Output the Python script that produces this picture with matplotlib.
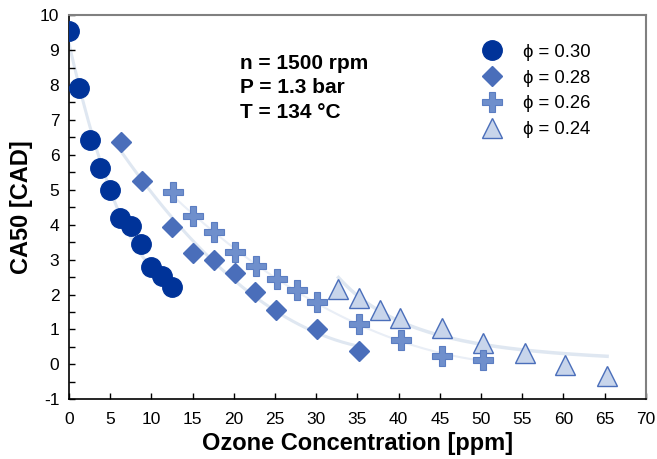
import numpy as np
import matplotlib
matplotlib.use("Agg")
import matplotlib.pyplot as plt
from matplotlib.ticker import MultipleLocator

plt.rcParams['font.family'] = ['Liberation Sans', 'DejaVu Sans']
plt.rcParams['axes.unicode_minus'] = False

# phi = 0.30
x_030 = [0, 1.25, 2.5, 3.75, 5.0, 6.25, 7.5, 8.75, 10.0, 11.25, 12.5]
y_030 = [9.55, 7.9, 6.43, 5.62, 5.0, 4.18, 3.96, 3.44, 2.78, 2.53, 2.22]
# phi = 0.28
x_028 = [6.3, 8.8, 12.5, 15.0, 17.6, 20.1, 22.6, 25.1, 30.1, 35.2]
y_028 = [6.38, 5.24, 3.92, 3.2, 3.0, 2.62, 2.07, 1.55, 1.0, 0.38]
# phi = 0.26
x_026 = [12.6, 15.1, 17.6, 20.1, 22.7, 25.2, 27.7, 30.1, 35.2, 40.3, 45.3, 50.3]
y_026 = [4.93, 4.24, 3.78, 3.22, 2.81, 2.45, 2.13, 1.79, 1.17, 0.70, 0.23, 0.12]
# phi = 0.24
x_024 = [32.7, 35.2, 37.7, 40.2, 45.3, 50.3, 55.3, 60.2, 65.3]
y_024 = [2.15, 1.89, 1.55, 1.33, 1.03, 0.62, 0.32, -0.02, -0.34]

labels = ['ϕ = 0.30', 'ϕ = 0.28', 'ϕ = 0.26', 'ϕ = 0.24']
conditions = ['n = 1500 rpm', 'P = 1.3 bar', 'T = 134 °C']


def poly_fit(x, y, deg=2):
    x = np.asarray(x, float)
    c = np.polyfit(x, y, deg)
    xs = np.linspace(x.min(), x.max(), 200)
    return xs, np.polyval(c, xs)


def pow_fit(x, y):
    x = np.asarray(x, float)
    y = np.asarray(y, float)
    m = y > 0
    b, a = np.polyfit(np.log(x[m]), np.log(y[m]), 1)
    xs = np.linspace(x.min(), x.max(), 200)
    return xs, np.exp(a) * xs ** b


fig = plt.figure(figsize=(6.57, 4.59), dpi=100)
ax = fig.add_axes([0.105, 0.130, 0.878, 0.837])

# trend lines
line_col = '#dfe7f1'
xs, ys = poly_fit(x_030, y_030)
ax.plot(xs, ys, color=line_col, lw=2.2, zorder=1)
xs, ys = poly_fit(x_028, y_028)
ax.plot(xs, ys, color=line_col, lw=2.2, zorder=1)
xs, ys = poly_fit(x_026, y_026)
ax.plot(xs, ys, color='#e9eef6', lw=1.5, zorder=1)
xs, ys = pow_fit(x_024, y_024)
ax.plot(xs, ys, color=line_col, lw=2.5, zorder=1)

ax.plot(x_030, y_030, 'o', ms=14, color='#003399', mec='#003399', label=labels[0], zorder=5)
ax.plot(x_028, y_028, 'D', ms=10, color='#4a6eba', mec='#4a6eba', label=labels[1], zorder=4)
ax.plot(x_026, y_026, 'P', ms=14.5, color='#6f8fcc', mec='#5b7dc2', mew=0.8, label=labels[2], zorder=3)
ax.plot(x_024, y_024, '^', ms=14, color='#c8d5eb', mec='#4a6eba', mew=1.0, label=labels[3], zorder=2)

ax.set_xlim(0, 70)
ax.set_ylim(-1, 10)
ax.xaxis.set_major_locator(MultipleLocator(5))
ax.yaxis.set_major_locator(MultipleLocator(1))
ax.yaxis.set_minor_locator(MultipleLocator(0.5))
ax.tick_params(axis='both', which='both', direction='in', length=4, width=1, labelsize=12.5)
ax.tick_params(axis='x', pad=9)
ax.tick_params(axis='y', pad=7)

for s in ['left', 'bottom']:
    ax.spines[s].set_color('black')
    ax.spines[s].set_linewidth(1.2)
for s in ['top', 'right']:
    ax.spines[s].set_color('#808080')
    ax.spines[s].set_linewidth(1.5)

ax.set_xlabel('Ozone Concentration [ppm]', fontsize=17, fontweight='bold', labelpad=4)
ax.set_ylabel('CA50 [CAD]', fontsize=17, fontweight='bold', labelpad=5)

for i, t in enumerate(conditions):
    ax.text(0.296, 0.875 - i * 0.064, t, transform=ax.transAxes, fontsize=15,
            fontweight='bold', va='center', ha='left')

ax.legend(loc='upper left', bbox_to_anchor=(0.714, 0.925), frameon=False, fontsize=13.3,
          handlelength=1.2, handletextpad=1.1, labelspacing=0.47, borderpad=0, borderaxespad=0)

fig.savefig('out.png', dpi=100)
